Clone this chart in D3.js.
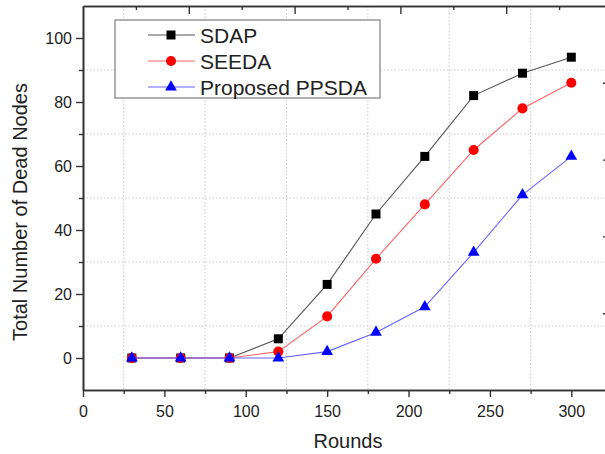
<!DOCTYPE html>
<html>
<head>
<meta charset="utf-8">
<script src="https://cdn.jsdelivr.net/npm/d3@7"></script>
<style>
  body { margin: 0; background: #fff; }
  svg { display: block; font-family: "Liberation Sans", Arial, sans-serif; }
</style>
</head>
<body>
<div id="chart"></div>
<script>
// Data
const rounds = [30, 60, 90, 120, 150, 180, 210, 240, 270, 300];
const sdap   = [0, 0, 0, 6, 23, 45, 63, 82, 89, 94];
const seeda  = [0, 0, 0, 2, 13, 31, 48, 65, 78, 86];
const ppsda  = [0, 0, 0, 0, 2, 8, 16, 33, 51, 63];
const seriesNames = ["SDAP", "SEEDA", "Proposed PPSDA"];
const xTicks = [0, 50, 100, 150, 200, 250, 300];
const yTicks = [0, 20, 40, 60, 80, 100];

const W = 605, H = 454;
const plotL = 83, plotR = 612, plotT = 6, plotB = 390;

const svg = d3.select("#chart").append("svg")
    .attr("width", W).attr("height", H);

const x = d3.scaleLinear().domain([0, 325]).range([plotL, plotR]);
const y = d3.scaleLinear().domain([-10, 110]).range([plotB, plotT]);
// opposite axes in the original use their own 0..1 scale
const fx = d3.scaleLinear().domain([0, 1]).range([plotL, plotR]);
const fy = d3.scaleLinear().domain([0, 1]).range([plotB, plotT]);

// dotted grid on minor positions
const xGrid = d3.range(25, 326, 50);
const yGrid = d3.range(10, 100, 20);
svg.append("g").selectAll("line").data(xGrid).join("line")
    .attr("x1", d => x(d)).attr("x2", d => x(d))
    .attr("y1", plotT).attr("y2", plotB)
    .attr("stroke", "#c8c8c8").attr("stroke-width", 1)
    .attr("stroke-dasharray", "1.5,2");
svg.append("g").selectAll("line").data(yGrid).join("line")
    .attr("x1", plotL).attr("x2", plotR)
    .attr("y1", d => y(d)).attr("y2", d => y(d))
    .attr("stroke", "#c8c8c8").attr("stroke-width", 1)
    .attr("stroke-dasharray", "1.5,2");

function styleAxis(g) {
  g.selectAll(".domain").attr("stroke", "#333").attr("stroke-width", 1.6);
  g.selectAll(".tick line").attr("stroke", "#333").attr("stroke-width", 1.4);
  g.selectAll(".tick text").attr("fill", "#222")
      .style("font-size", "16px").style("font-family", "'Liberation Sans', Arial, sans-serif");
}

// bottom axis: minor then major
svg.append("g").attr("transform", `translate(0,${plotB})`)
    .call(d3.axisBottom(x).tickValues(d3.range(25, 326, 50)).tickSize(4).tickFormat("").tickSizeOuter(0))
    .call(styleAxis);
svg.append("g").attr("transform", `translate(0,${plotB})`)
    .call(d3.axisBottom(x).tickValues(xTicks).tickSize(7).tickPadding(9).tickSizeOuter(0))
    .call(styleAxis);

// left axis
svg.append("g").attr("transform", `translate(${plotL},0)`)
    .call(d3.axisLeft(y).tickValues(yGrid).tickSize(4).tickFormat("").tickSizeOuter(0))
    .call(styleAxis);
svg.append("g").attr("transform", `translate(${plotL},0)`)
    .call(d3.axisLeft(y).tickValues(yTicks).tickSize(7).tickPadding(4).tickSizeOuter(0))
    .call(styleAxis);

// top axis (ticks inward)
svg.append("g").attr("transform", `translate(0,${plotT})`)
    .call(d3.axisBottom(fx).tickValues(d3.range(0.1, 1, 0.2)).tickSize(4).tickFormat("").tickSizeOuter(0))
    .call(styleAxis);
svg.append("g").attr("transform", `translate(0,${plotT})`)
    .call(d3.axisBottom(fx).tickValues([0.2, 0.4, 0.6, 0.8]).tickSize(8).tickFormat("").tickSizeOuter(0))
    .call(styleAxis);

// right axis (ticks inward)
svg.append("g").attr("transform", `translate(${plotR},0)`)
    .call(d3.axisLeft(fy).tickValues([0.2, 0.4, 0.6, 0.8]).tickSize(9).tickFormat("").tickSizeOuter(0))
    .call(styleAxis);

// axis titles
svg.append("text")
    .attr("x", 348).attr("y", 448)
    .attr("text-anchor", "middle").attr("fill", "#222")
    .style("font-size", "20px").text("Rounds");
svg.append("text")
    .attr("transform", `translate(27,${(plotT + plotB) / 2 + 14}) rotate(-90)`)
    .attr("text-anchor", "middle").attr("fill", "#222")
    .style("font-size", "20px").text("Total Number of Dead Nodes");

// series
const series = [
  { name: seriesNames[0], values: sdap,  line: "#555555", fill: "#000000", shape: d3.symbolSquare,   size: 81 },
  { name: seriesNames[1], values: seeda, line: "#ff6464", fill: "#ff0000", shape: d3.symbolCircle,   size: 80 },
  { name: seriesNames[2], values: ppsda, line: "#6464ff", fill: "#0000ff", shape: d3.symbolTriangle, size: 60 }
];

const line = d3.line().x(d => x(d[0])).y(d => y(d[1]));

series.forEach(s => {
  const pts = rounds.map((r, i) => [r, s.values[i]]);
  svg.append("path").datum(pts)
      .attr("d", line).attr("fill", "none")
      .attr("stroke", s.line).attr("stroke-width", 1.1);
  svg.append("g").selectAll("path").data(pts).join("path")
      .attr("transform", d => `translate(${x(d[0])},${y(d[1])})`)
      .attr("d", d3.symbol().type(s.shape).size(s.size))
      .attr("fill", s.fill);
});

// legend
const lg = svg.append("g");
lg.append("rect").attr("x", 115).attr("y", 20).attr("width", 265).attr("height", 78)
    .attr("fill", "#fff").attr("stroke", "#888").attr("stroke-width", 1.3);
series.forEach((s, i) => {
  const ly = 35 + i * 26;
  lg.append("line").attr("x1", 148).attr("x2", 195).attr("y1", ly).attr("y2", ly)
      .attr("stroke", s.line).attr("stroke-width", 1.1);
  lg.append("path").attr("transform", `translate(171,${ly})`)
      .attr("d", d3.symbol().type(s.shape).size(s.size)).attr("fill", s.fill);
  lg.append("text").attr("x", 200).attr("y", ly).attr("dy", "0.36em")
      .attr("fill", "#222").style("font-size", "21px").text(s.name);
});
</script>
</body>
</html>
